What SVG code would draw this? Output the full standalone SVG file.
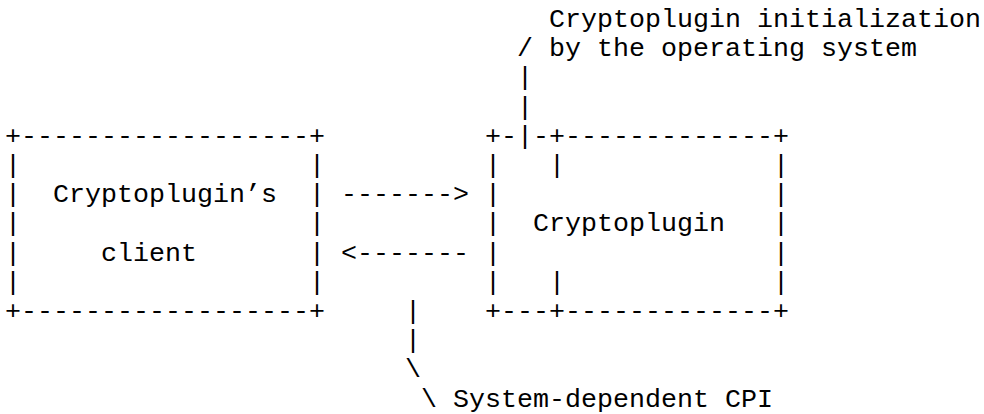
<svg xmlns="http://www.w3.org/2000/svg" width="984" height="414" viewBox="0 0 984 414">
<style>
text{font-family:"Liberation Mono","Courier New",monospace;font-size:26.667px;fill:#000}
</style>
<rect width="984" height="414" fill="#fff"/>
<g id="node-client">
<text x="5" y="143.8">+------------------+</text>
<text x="5" y="173">|</text><text x="309" y="173">|</text>
<text x="5" y="202.2">|</text><text x="309" y="202.2">|</text>
<text x="5" y="231.4">|</text><text x="309" y="231.4">|</text>
<text x="5" y="260.6">|</text><text x="309" y="260.6">|</text>
<text x="5" y="289.8">|</text><text x="309" y="289.8">|</text>
<text x="5" y="319">+------------------+</text>
<text x="53" y="202.2">Cryptoplugin’s</text>
<text x="101" y="260.6">client</text>
</g>
<g id="node-cryptoplugin">
<text x="485" y="143.8">+-</text>
<text x="533" y="143.8">-+-------------+</text>
<text x="485" y="173">|</text><text x="549" y="173">|</text><text x="773" y="173">|</text>
<text x="485" y="202.2">|</text><text x="773" y="202.2">|</text>
<text x="485" y="231.4">|</text><text x="773" y="231.4">|</text>
<text x="485" y="260.6">|</text><text x="773" y="260.6">|</text>
<text x="485" y="289.8">|</text><text x="549" y="289.8">|</text><text x="773" y="289.8">|</text>
<text x="485" y="319">+---+-------------+</text>
<text x="533" y="231.4">Cryptoplugin</text>
</g>
<g id="connectors">
<text x="341" y="202.2">-------&gt;</text>
<text x="341" y="260.6">&lt;-------</text>
<text x="517" y="56.2">/</text>
<text x="517" y="85.4">|</text>
<text x="517" y="114.6">|</text>
<text x="517" y="143.8">|</text>
<text x="405" y="319">|</text>
<text x="405" y="348.2">|</text>
<text x="405" y="377.4">\</text>
<text x="421" y="406.6">\</text>
</g>
<g id="label-init">
<text x="549" y="27">Cryptoplugin initialization</text>
<text x="549" y="56.2">by the operating system</text>
</g>
<g id="label-cpi">
<text x="453" y="406.6">System-dependent CPI</text>
</g>
</svg>
